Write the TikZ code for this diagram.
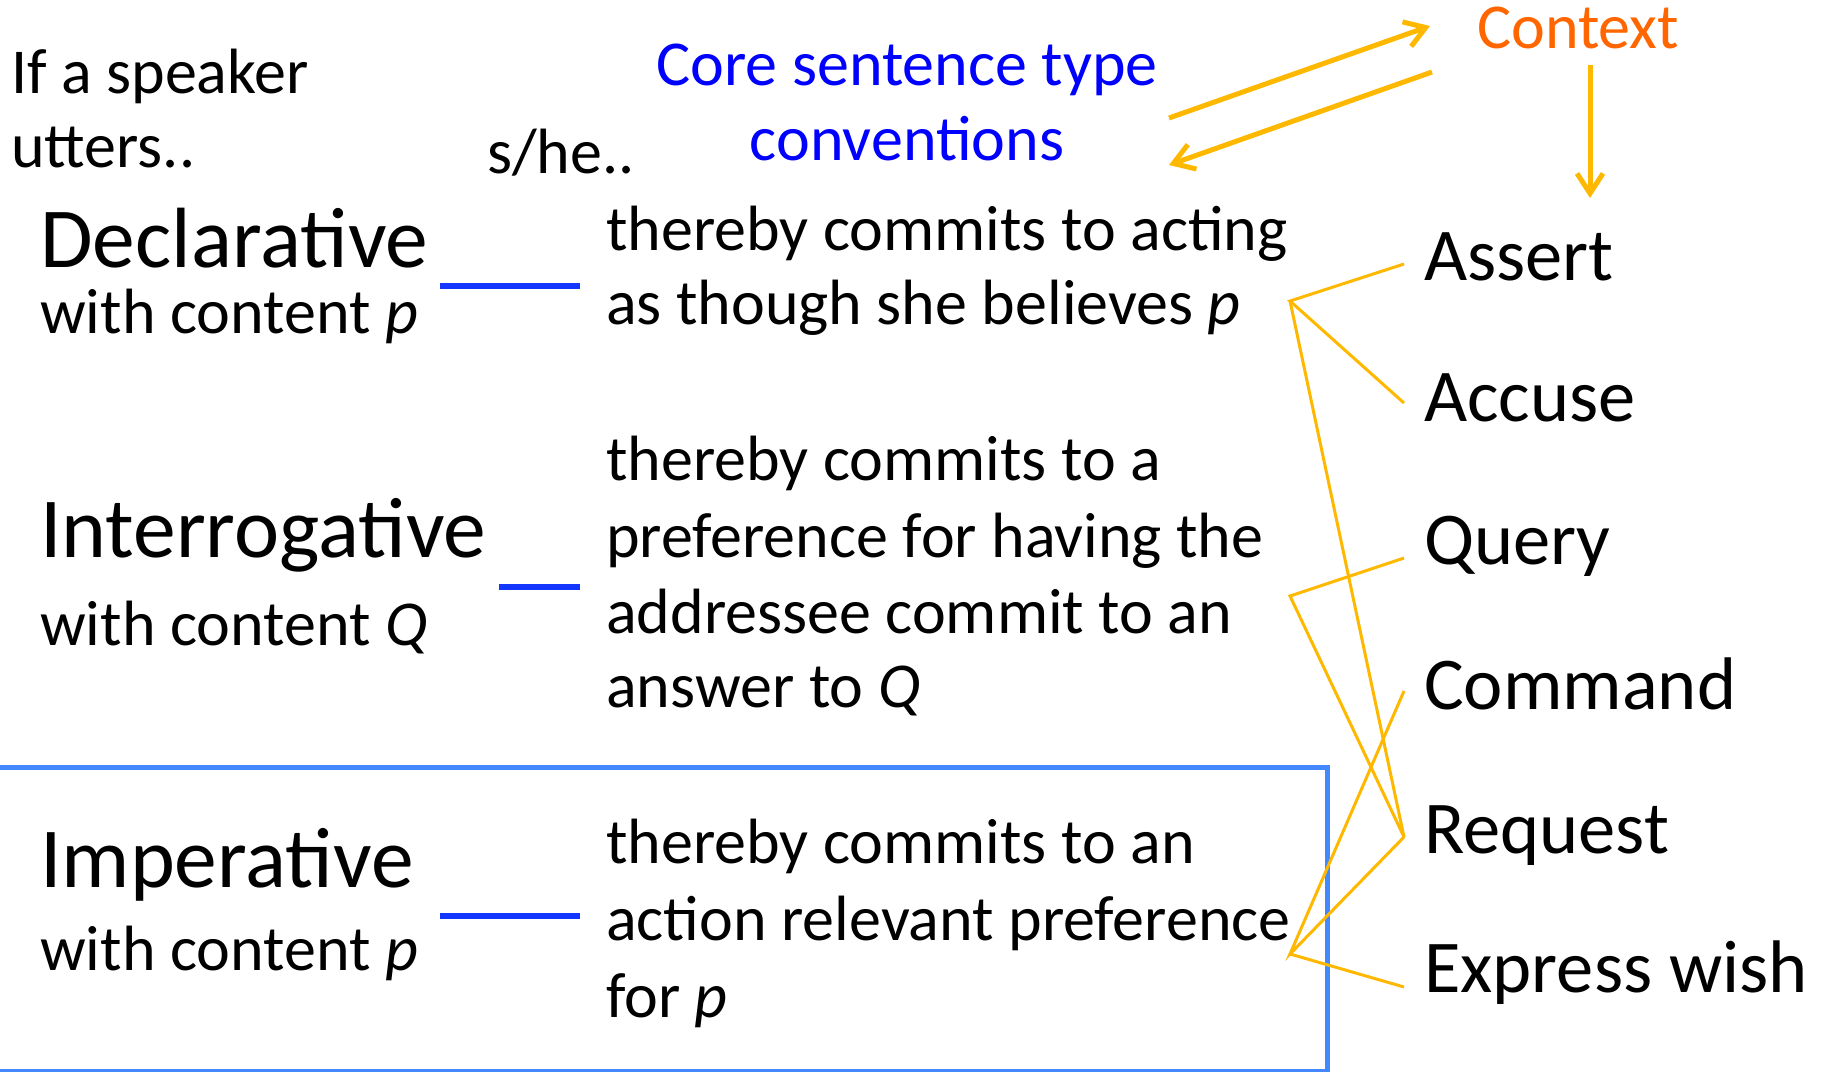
\documentclass[tikz,border=0pt]{standalone}
\usepackage{fontspec}
\setmainfont{Carlito}
\usetikzlibrary{arrows.meta}
\definecolor{ctxorange}{RGB}{255,102,0}
\definecolor{arrorange}{RGB}{255,184,0}
\definecolor{coreblue}{RGB}{0,0,255}
\definecolor{linkblue}{RGB}{20,55,255}
\definecolor{boxblue}{RGB}{68,136,255}
\tikzset{
  body/.style={font=\fontsize{64}{77}\selectfont, inner sep=0pt, anchor=base west},
  big/.style={font=\fontsize{85.5}{100}\selectfont, inner sep=0pt, anchor=base west},
  act/.style={font=\fontsize{74.5}{90}\selectfont, inner sep=0pt, anchor=base west},
  link/.style={linkblue, line width=6.5pt},
  tie/.style={arrorange, line width=3pt},
  ctxarrow/.style={arrorange, line width=5pt, -{Straight Barb[length=20pt,width=26pt]}},
  frame/.style={boxblue, line width=5pt},
}
\begin{document}
\begin{tikzpicture}[x=1pt,y=-1pt]
\useasboundingbox (0,0) rectangle (1825,1071);
% frame around imperative row
\draw[frame] (-10,767.5) rectangle (1327.5,1071);

% headers
\node[body] (ifa) at (11,93) {If a speaker};
\node[body] (utt) at (11,167) {utters..};
\node[body] (she) at (487,173) {s/he..};
\node[body, coreblue, anchor=base] (core1) at (907,85) {Core sentence type};
\node[body, coreblue, anchor=base] (core2) at (907,160) {conventions};
\node[body, ctxorange] (ctx) at (1477,48) {Context};

% sentence types
\node[big] (decl) at (40,267) {Declarative};
\node[body] (declc) at (40,333) {with content \textit{p}};
\node[big] (intr) at (40,557) {Interrogative};
\node[body] (intrc) at (40,645) {with content \textit{Q}};
\node[big] (impr) at (40,887) {Imperative};
\node[body] (imprc) at (40,970) {with content \textit{p}};

% descriptions
\node[body] (dd1) at (606,250) {thereby commits to acting};
\node[body] (dd2) at (606,324) {as though she believes \textit{p}};
\node[body] (id1) at (606,480) {thereby commits to a};
\node[body] (id2) at (606,557) {preference for having the};
\node[body] (id3) at (606,633) {addressee commit to an};
\node[body] (id4) at (606,707) {answer to \textit{Q}};
\node[body] (md1) at (606,863) {thereby commits to an};
\node[body] (md2) at (606,940) {action relevant preference};
\node[body] (md3) at (606,1017) {for \textit{p}};

% speech acts
\node[act] (assert) at (1424,280) {Assert};
\node[act] (accuse) at (1424,421) {Accuse};
\node[act] (query) at (1424,564) {Query};
\node[act] (command) at (1424,709) {Command};
\node[act] (request) at (1424,853) {Request};
\node[act] (wish) at (1424,992) {Express wish};

% blue links
\coordinate (dlA) at (440,286); \coordinate (dlB) at (580,286);
\coordinate (ilA) at (499,587); \coordinate (ilB) at (580,587);
\coordinate (mlA) at (440,916); \coordinate (mlB) at (580,916);
\draw[link] (dlA) -- (dlB);
\draw[link] (ilA) -- (ilB);
\draw[link] (mlA) -- (mlB);

% junctions and ends
\coordinate (jd) at (1290,301);
\coordinate (ji) at (1290,596);
\coordinate (jm) at (1290,954);
\coordinate (eAssert) at (1404,264);
\coordinate (eAccuse) at (1404,403);
\coordinate (eQuery) at (1404,558);
\coordinate (eCommand) at (1404,691);
\coordinate (eRequest) at (1404,837);
\coordinate (eWish) at (1404,987);
\draw[tie] (eAssert) -- (jd) -- (eAccuse);
\draw[tie] (jd) -- (eRequest);
\draw[tie] (eQuery) -- (ji) -- (eRequest);
\draw[tie] (eCommand) -- (jm) -- (eRequest);
\draw[tie] (jm) -- (eWish);

% context arrows
\coordinate (c1s) at (1169,118); \coordinate (c1e) at (1430,26);
\coordinate (c2s) at (1432,72);  \coordinate (c2e) at (1169,165);
\coordinate (c3s) at (1590,65);  \coordinate (c3e) at (1590,198);
\draw[ctxarrow] (c1s) -- (c1e);
\draw[ctxarrow] (c2s) -- (c2e);
\draw[ctxarrow] (c3s) -- (c3e);
\end{tikzpicture}
\end{document}
